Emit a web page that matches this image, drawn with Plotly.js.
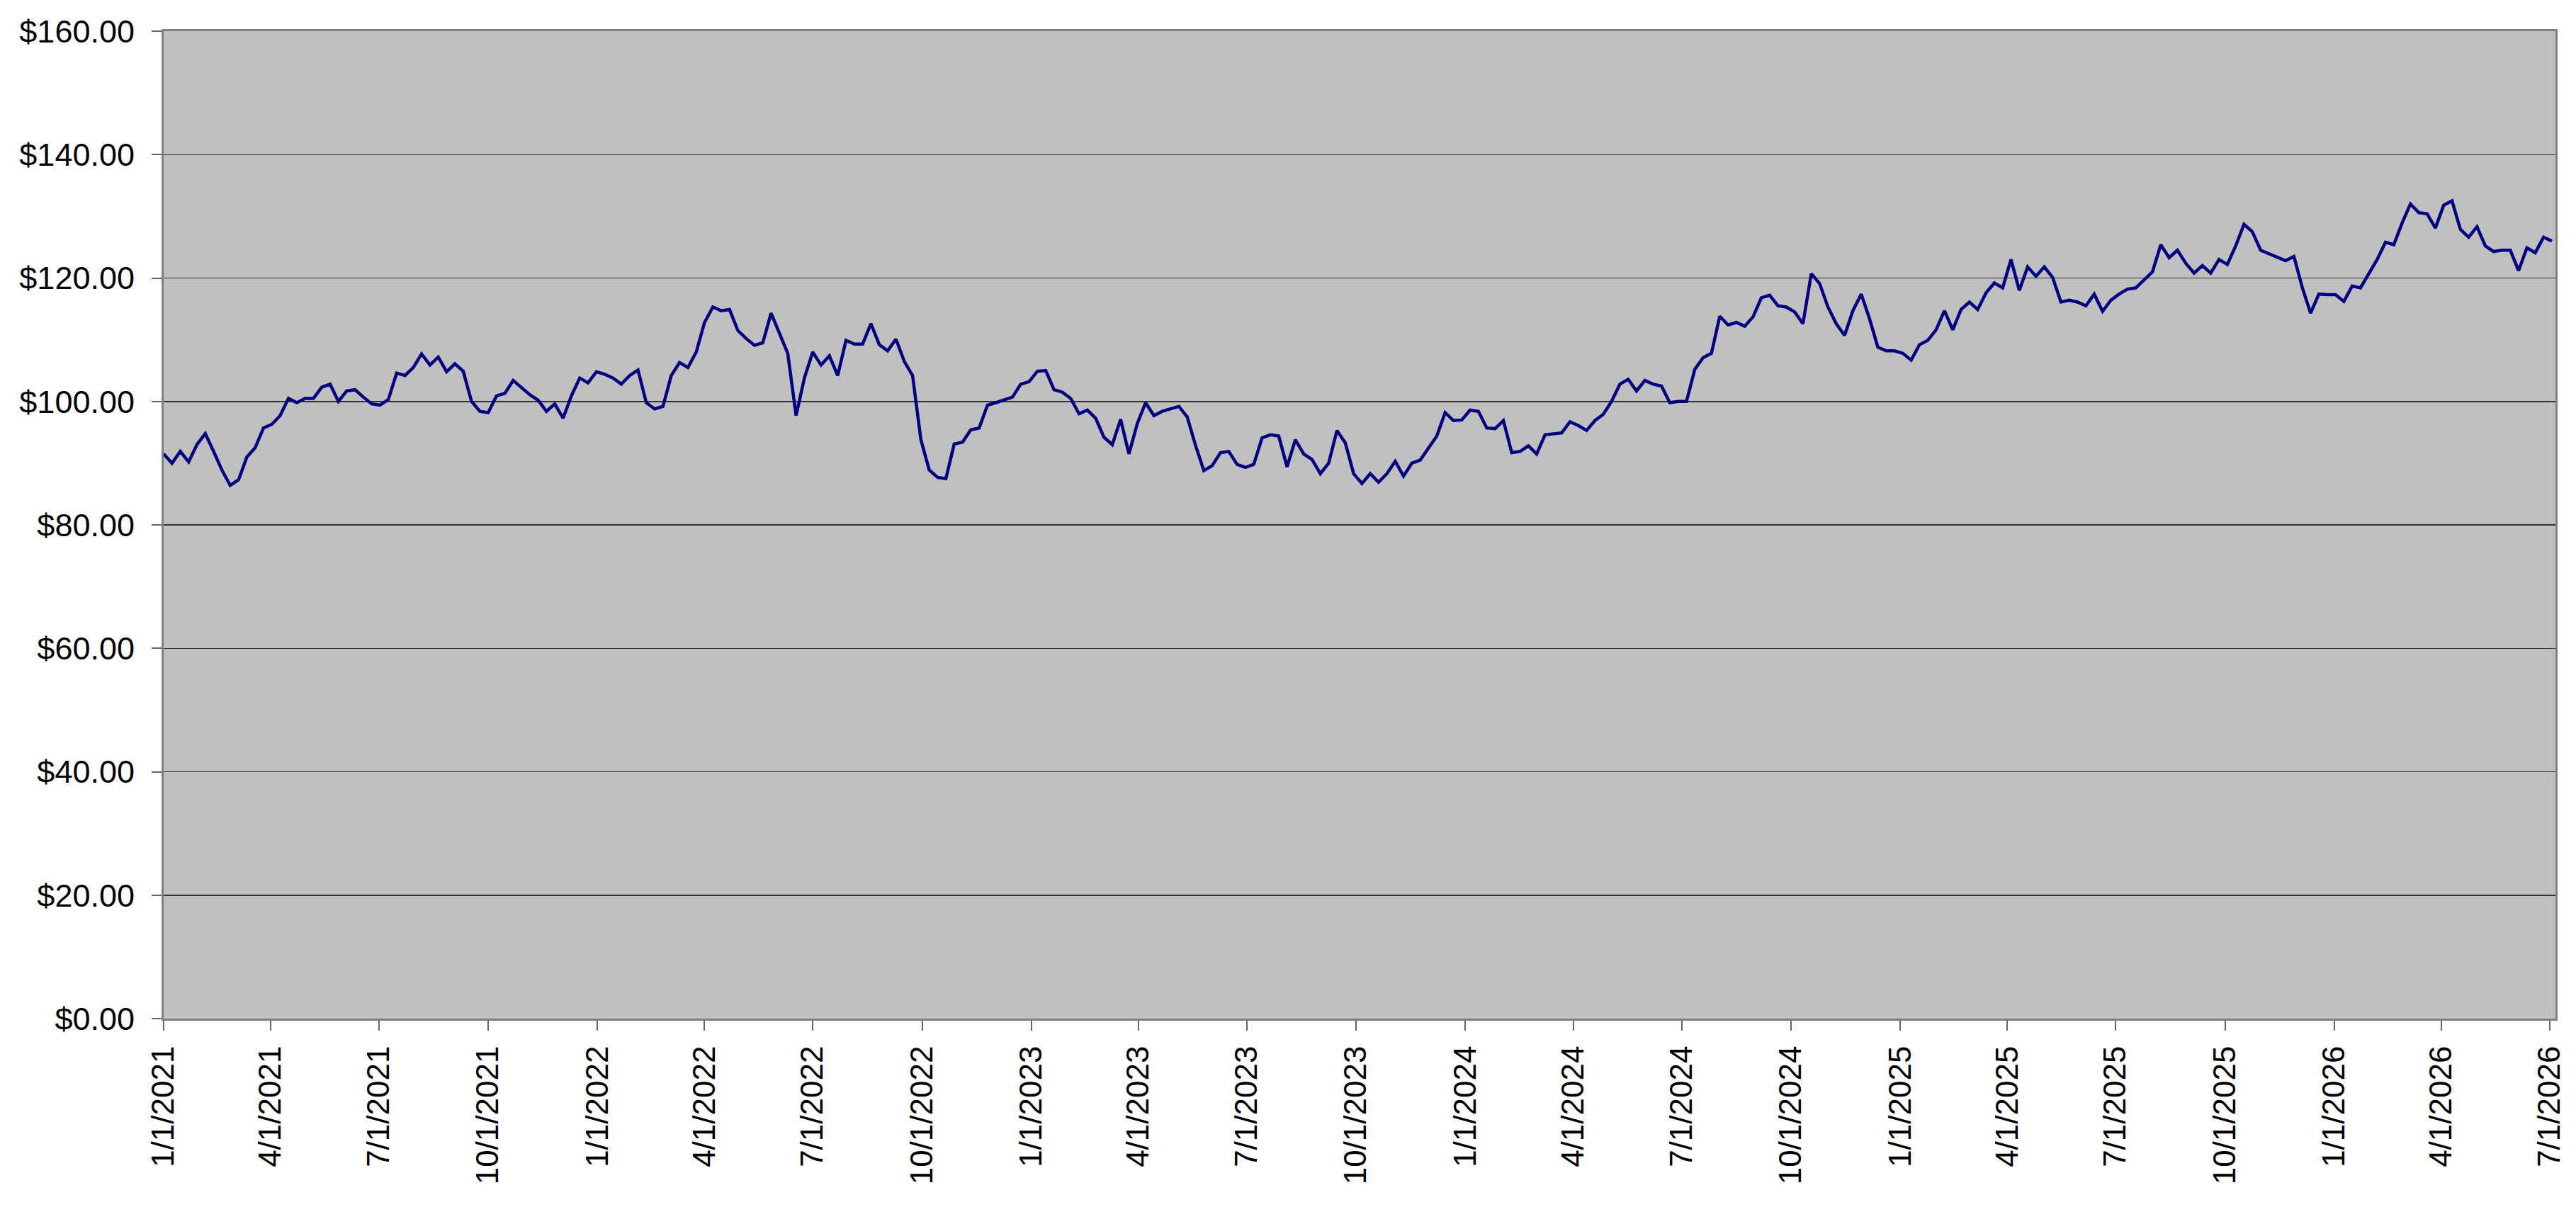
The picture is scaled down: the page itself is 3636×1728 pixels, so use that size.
<!DOCTYPE html>
<html>
<head>
<meta charset="utf-8">
<script src="https://cdn.plot.ly/plotly-3.0.1.min.js"></script>
<style>
  html, body { margin: 0; padding: 0; background: #ffffff; }
  #chart { width: 3636px; height: 1728px; }
</style>
</head>
<body>
<div id="chart"></div>
<script>
// weekly closing prices (one point every 7 days from startDate)
const startDate = '2021-01-01';
const stepDays = 7;

const prices2021 = [
    91.5, 90.0, 91.9, 90.2, 93.0, 94.8, 91.9, 88.9, 86.4, 87.3,
    91.0, 92.5, 95.7, 96.3, 97.7, 100.5, 99.8, 100.5, 100.5, 102.3,
    102.8, 100.0, 101.7, 101.9, 100.7, 99.6, 99.4, 100.3, 104.6, 104.2,
    105.5, 107.7, 105.9, 107.2, 104.8, 106.1, 104.9, 100.0, 98.4, 98.2,
    100.9, 101.3, 103.4, 102.3, 101.1, 100.2, 98.4, 99.6, 97.3, 100.9,
    103.8, 103.0, 104.8,
];
const prices2022 = [
    104.4, 103.8, 102.8, 104.2, 105.1, 99.8, 98.8, 99.2, 104.2, 106.3,
    105.5, 108.0, 112.8, 115.3, 114.7, 114.9, 111.5, 110.2, 109.1, 109.5,
    114.3, 111.1, 107.8, 97.7, 103.8, 108.0, 105.9, 107.4, 104.2, 109.9,
    109.3, 109.3, 112.6, 109.2, 108.2, 110.1, 106.5, 104.2, 93.8, 88.9,
    87.7, 87.5, 93.1, 93.4, 95.4, 95.7, 99.4, 99.8, 100.2, 100.7,
    102.8, 103.2,
];
const prices2023 = [
    104.9, 105.0, 101.9, 101.5, 100.5, 98.0, 98.6, 97.3, 94.2, 93.0,
    97.1, 91.5, 96.4, 99.8, 97.7, 98.4, 98.8, 99.2, 97.5, 92.9,
    88.8, 89.6, 91.7, 91.9, 89.8, 89.3, 89.8, 94.1, 94.6, 94.4,
    89.4, 93.8, 91.5, 90.6, 88.3, 90.0, 95.3, 93.3, 88.3, 86.7,
    88.3, 86.9, 88.3, 90.3, 87.9, 90.0, 90.5, 92.5, 94.4, 98.2,
    96.9, 97.0,
];
const prices2024 = [
    98.6, 98.4, 95.7, 95.6, 96.9, 91.7, 91.9, 92.8, 91.5, 94.6,
    94.7, 94.9, 96.7, 96.1, 95.3, 96.9, 97.9, 100.0, 102.8, 103.6,
    101.7, 103.4, 102.8, 102.5, 99.8, 100.0, 100.0, 105.2, 107.1, 107.8,
    113.8, 112.4, 112.8, 112.2, 113.7, 116.8, 117.2, 115.5, 115.3, 114.5,
    112.6, 120.7, 119.1, 115.3, 112.6, 110.7, 114.7, 117.4, 113.4, 108.8,
    108.2, 108.2,
];
const prices2025 = [
    107.8, 106.7, 109.2, 109.9, 111.6, 114.7, 111.6, 114.9, 116.1, 114.9,
    117.6, 119.2, 118.4, 123.0, 118.0, 121.8, 120.3, 121.8, 120.1, 116.1,
    116.4, 116.1, 115.5, 117.4, 114.6, 116.4, 117.4, 118.2, 118.4, 119.7,
    121.0, 125.4, 123.3, 124.5, 122.4, 120.8, 122.0, 120.8, 123.0, 122.2,
    125.2, 128.7, 127.5, 124.5, 123.9, 123.3, 122.8, 123.5, 118.5, 114.3,
    117.4, 117.3,
];
const prices2026 = [
    117.3, 116.2, 118.7, 118.4, 120.7, 123.0, 125.8, 125.4, 128.9, 132.0,
    130.6, 130.4, 128.1, 131.8, 132.5, 127.9, 126.6, 128.3, 125.2, 124.3,
    124.5, 124.5, 121.2, 124.9, 124.1, 126.6, 126.0,
];

const tickDates = [
    '2021-01-01', '2021-04-01', '2021-07-01', '2021-10-01',
    '2022-01-01', '2022-04-01', '2022-07-01', '2022-10-01',
    '2023-01-01', '2023-04-01', '2023-07-01', '2023-10-01',
    '2024-01-01', '2024-04-01', '2024-07-01', '2024-10-01',
    '2025-01-01', '2025-04-01', '2025-07-01', '2025-10-01',
    '2026-01-01', '2026-04-01', '2026-07-01',
];
const tickLabels = [
    '1/1/2021', '4/1/2021', '7/1/2021', '10/1/2021',
    '1/1/2022', '4/1/2022', '7/1/2022', '10/1/2022',
    '1/1/2023', '4/1/2023', '7/1/2023', '10/1/2023',
    '1/1/2024', '4/1/2024', '7/1/2024', '10/1/2024',
    '1/1/2025', '4/1/2025', '7/1/2025', '10/1/2025',
    '1/1/2026', '4/1/2026', '7/1/2026',
];

const prices = [].concat(prices2021, prices2022, prices2023, prices2024, prices2025, prices2026);

const dates = [];
const t0 = Date.parse(startDate + 'T00:00:00Z');
for (let i = 0; i < prices.length; i++) {
    dates.push(new Date(t0 + i * stepDays * 86400000).toISOString().slice(0, 10));
}

const axisFont = {family: 'Liberation Sans, Arial, sans-serif', size: 44, color: '#000000'};

const layout = {
    width: 3636,
    height: 1728,
    margin: {t: 44, r: 29, b: 290, l: 231},
    paper_bgcolor: '#ffffff',
    plot_bgcolor: '#c0c0c0',
    showlegend: false,
    font: axisFont,
    xaxis: {
        type: 'date',
        range: ['2021-01-01', '2026-07-06'],
        tickmode: 'array',
        tickvals: tickDates,
        ticktext: tickLabels,
        tickangle: -90,
        tickfont: axisFont,
        ticks: 'outside',
        ticklen: 14,
        tickwidth: 2,
        tickcolor: '#666666',
        ticklabelstandoff: 4,
        showgrid: false,
        zeroline: false,
        showline: true,
        linecolor: '#808080',
        linewidth: 3,
        mirror: true,
    },
    yaxis: {
        range: [0, 160],
        dtick: 20,
        tick0: 0,
        tickformat: '$.2f',
        tickfont: Object.assign({}, axisFont, {size: 45}),
        ticks: 'outside',
        ticklen: 14,
        tickwidth: 2,
        tickcolor: '#666666',
        ticklabelstandoff: 15,
        showgrid: true,
        gridcolor: '#333333',
        gridwidth: 1.5,
        zeroline: false,
        showline: true,
        linecolor: '#808080',
        linewidth: 3,
        mirror: true,
    },
};

Plotly.newPlot(
    'chart',
    [
        {
            x: dates,
            y: prices,
            type: 'scatter',
            mode: 'lines',
            line: {color: '#000080', width: 4.5},
            hoverinfo: 'skip',
        },
    ],
    layout,
    {displayModeBar: false, staticPlot: true},
);
</script>
</body>
</html>
